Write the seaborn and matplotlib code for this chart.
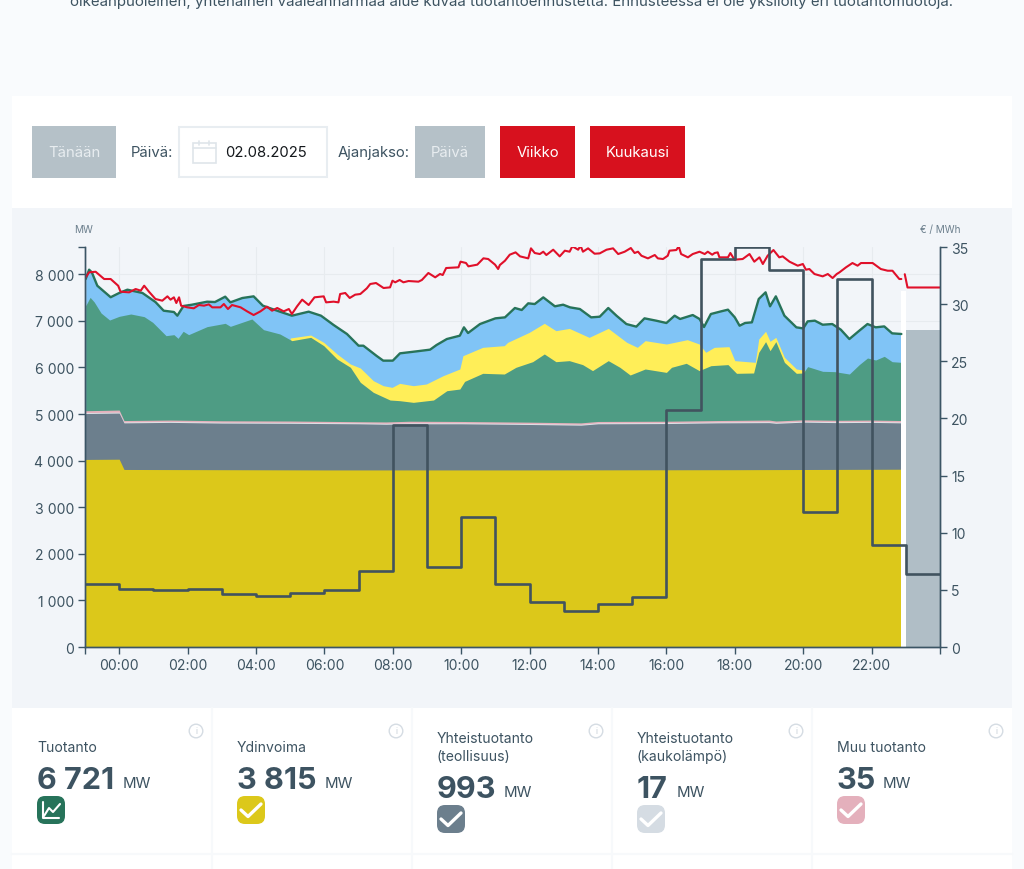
"""Finnish electricity production view: stacked production, consumption and spot price."""
import matplotlib
matplotlib.use("Agg")
import matplotlib.pyplot as plt
from matplotlib.patches import Rectangle, FancyBboxPatch, Circle
import pandas as pd
import seaborn as sns

sns.set_style("white")
plt.rcParams["font.family"] = ["Inter", "DejaVu Sans"]

TEXT = "#3d5361"
AXIS = "#3b5565"

# hours relative to 02.08.2025 00:00, values in MW (top edge of each stacked layer)
total_t = [-0.98, -0.88, -0.8, -0.64, -0.25, 0, 0.24, 0.68, 1.06, 1.3, 1.6, 1.7, 1.88, 2.13, 2.57, 2.8,
           3.1, 3.25, 3.6, 3.93, 4.2, 4.7, 5.05, 5.54, 5.9, 6.27, 6.66, 7.0, 7.14, 7.53, 7.72, 8.0,
           8.21, 8.7, 9.09, 9.28, 9.58, 9.96, 10.08, 10.2, 10.55, 11.0, 11.28, 11.57, 11.77, 11.96,
           12.15, 12.4, 12.74, 12.98, 13.18, 13.47, 13.8, 14.05, 14.3, 14.54, 14.83, 15.12, 15.36,
           15.7, 16.0, 16.24, 16.4, 16.77, 16.97, 17.1, 17.3, 17.6, 17.8, 18.0, 18.14, 18.3, 18.5,
           18.7, 18.9, 19.03, 19.2, 19.45, 19.8, 20.0, 20.13, 20.34, 20.57, 20.85, 21.1, 21.35,
           21.64, 21.88, 22.12, 22.37, 22.6, 22.87]
total_mw = [7897, 8097, 8040, 7753, 7506, 7597, 7668, 7597, 7403, 7217, 7189, 7110, 7318, 7346, 7410, 7403,
            7518, 7396, 7489, 7525, 7325, 7196, 7110, 7196, 7110, 6910, 6717, 6466, 6466, 6245, 6145, 6145,
            6302, 6345, 6381, 6481, 6609, 6681, 6860, 6738, 6931, 7053, 7074, 7275, 7232, 7375,
            7360, 7503, 7311, 7346, 7289, 7253, 7074, 7088, 7275, 7110, 6931, 6875, 7053,
            7003, 6953, 7110, 7039, 7124, 7039, 6867, 7146, 7203, 7239, 7074, 6895, 6953, 6967,
            7468, 7611, 7311, 7525, 7110, 6860, 6837, 6988, 7003, 6916, 6931, 6810, 6609,
            6788, 6931, 6860, 6880, 6731, 6717]

solar_t = [5.0, 5.6, 5.98, 6.37, 6.76, 7.05, 7.43, 7.72, 7.98, 8.2, 8.6, 8.98, 9.47, 9.96, 10.05, 10.63,
           11.26, 11.36, 11.99, 12.43, 12.77, 13.16, 13.74, 14.3, 14.84, 15.15, 15.38, 16.0, 16.61,
           16.96, 17.15, 17.4, 17.83, 18.0, 18.6, 18.7, 18.9, 19.03, 19.2, 19.45, 19.8, 20.1]
solar_mw = [6631, 6695, 6538, 6288, 6073, 5987, 5715, 5608, 5572, 5658, 5608, 5644, 5822, 5966, 6251, 6431,
            6467, 6538, 6752, 6946, 6788, 6837, 6645, 6837, 6538, 6431, 6574, 6502, 6595,
            6502, 6324, 6431, 6445, 6145, 6109, 6609, 6775, 6560, 6645, 6217, 5966, 5931]

hydro_t = [-0.98, -0.85, -0.73, -0.53, -0.28, 0, 0.34, 0.73, 0.98, 1.37, 1.6, 1.72, 1.87, 2.03, 2.57, 3.1,
           3.25, 3.88, 4.22, 4.7, 5.05, 5.6, 5.98, 6.37, 6.76, 7.05, 7.43, 7.92, 8.2, 8.6, 9.19, 9.58,
           9.96, 10.1, 10.63, 11.26, 11.6, 12.09, 12.43, 12.77, 13.16, 13.55, 13.84, 14.3, 14.64, 14.94,
           15.38, 16.0, 16.15, 16.58, 16.96, 17.3, 17.8, 18.05, 18.55, 18.7, 18.9, 19.03, 19.2, 19.45,
           19.8, 20.0, 20.13, 20.57, 20.92, 21.35, 21.64, 21.88, 22.12, 22.37, 22.6, 22.87]
hydro_mw = [7325, 7503, 7403, 7167, 7017, 7096, 7146, 7089, 6967, 6681, 6703, 6624, 6775, 6703, 6875, 6946,
            6881, 7039, 6810, 6717, 6574, 6645, 6467, 6180, 6002, 5680, 5465, 5300, 5286, 5250, 5300, 5500,
            5536, 5700, 5873, 5858, 6002, 6123, 6288, 6123, 6145, 6060, 5931, 6145, 6002, 5837,
            5966, 5893, 6002, 6088, 5931, 6037, 6060, 5873, 5880, 6324, 6553, 6359, 6553, 6109,
            5873, 5880, 6017, 5916, 5909, 5858, 6060, 6202, 6159, 6238, 6123, 6109]

other_t = [-1, 0, 0.14, 1.5, 3, 5, 7, 7.8, 8.5, 10, 12, 13.5, 14, 16, 17.5, 19, 19.2, 20, 21, 22, 22.87]
other_mw = [5070, 5085, 4860, 4870, 4855, 4850, 4835, 4830, 4845, 4840, 4825, 4810, 4840, 4845, 4860, 4870,
            4850, 4875, 4865, 4870, 4860]
chp_mw = [5010, 5020, 4810, 4820, 4805, 4800, 4790, 4780, 4790, 4790, 4775, 4760, 4790, 4795, 4810, 4815,
          4800, 4825, 4815, 4820, 4810]

nuclear_t = [-1, 0, 0.14, 6, 12, 18, 22.87]
nuclear_mw = [4025, 4030, 3810, 3800, 3800, 3805, 3815]

# consumption, read as (hour, MW)
demand_readings = [
    (-0.98, 7933), (-0.88, 8040), (-0.69, 8053), (-0.44, 7897), (-0.25, 7897), (-0.03, 7753), (0.04, 7625),
    (0.29, 7611), (0.48, 7682), (0.63, 7647), (0.73, 7754), (0.87, 7625), (1.06, 7468), (1.26, 7432),
    (1.41, 7525), (1.5, 7454), (1.6, 7504), (1.67, 7382), (1.75, 7504), (1.81, 7325), (1.99, 7289),
    (2.18, 7268), (2.33, 7339), (2.48, 7325), (2.62, 7353), (2.72, 7289), (2.96, 7289), (3.06, 7361),
    (3.18, 7253), (3.3, 7339), (3.55, 7289), (3.74, 7203), (3.93, 7124), (4.13, 7203), (4.32, 7303),
    (4.47, 7217), (4.62, 7275), (4.81, 7203), (4.96, 7253), (5.05, 7146), (5.2, 7310), (5.35, 7454),
    (5.54, 7339), (5.71, 7504), (5.98, 7525), (6.05, 7396), (6.27, 7411), (6.41, 7396), (6.46, 7575),
    (6.61, 7597), (6.74, 7490), (6.9, 7561), (7.05, 7575), (7.24, 7697), (7.34, 7790), (7.51, 7811),
    (7.73, 7704), (7.92, 7718), (7.99, 7861), (8.07, 7826), (8.2, 7876), (8.31, 7826), (8.46, 7854),
    (8.75, 7840), (8.85, 7876), (9.04, 8026), (9.24, 7933), (9.38, 8005), (9.46, 7983), (9.56, 8133),
    (9.92, 8148), (9.98, 8269), (10.14, 8241), (10.21, 8169), (10.47, 8205), (10.65, 8341), (10.79, 8326),
    (10.99, 8205), (11.08, 8112), (11.13, 8197), (11.28, 8290), (11.42, 8419), (11.59, 8469), (11.72, 8383),
    (11.96, 8340), (12.04, 8555), (12.15, 8455), (12.3, 8433), (12.4, 8483), (12.49, 8412), (12.69, 8526),
    (12.88, 8383), (13.03, 8505), (13.17, 8483), (13.25, 8598), (13.42, 8526), (13.49, 8612), (13.56, 8483),
    (13.71, 8555), (13.9, 8440), (14.05, 8447), (14.25, 8526), (14.44, 8555), (14.59, 8433), (14.78, 8483),
    (14.96, 8562), (15.07, 8455), (15.17, 8483), (15.27, 8397), (15.46, 8340), (15.66, 8412), (15.75, 8340),
    (15.9, 8326), (16.04, 8397), (16.09, 8505), (16.29, 8519), (16.36, 8598), (16.43, 8433), (16.63, 8362),
    (16.77, 8433), (16.97, 8483), (17.12, 8433), (17.21, 8483), (17.34, 8419), (17.41, 8455), (17.5, 8469),
    (17.55, 8362), (17.8, 8362), (17.87, 8455), (17.99, 8312), (18.23, 8326), (18.43, 8433), (18.57, 8269),
    (18.72, 8362), (18.82, 8219), (18.96, 8397), (19.13, 8519), (19.3, 8362), (19.4, 8383), (19.6, 8269),
    (19.84, 8183), (19.99, 8219), (20.08, 8097), (20.18, 8111), (20.33, 8004), (20.57, 7954), (20.72, 8004),
    (20.86, 7918), (20.98, 8004), (21.06, 8040), (21.25, 8147), (21.44, 8240), (21.59, 8183), (21.69, 8240),
    (22.03, 8240), (22.27, 8111), (22.47, 8075), (22.61, 8075), (22.81, 7897), (22.87, 7897),
]

forecast_t = [22.97, 23.05, 24]
forecast_demand_mw = [8000, 7715, 7715]
forecast_start = 23
forecast_total_mw = 6800

# spot price, one value per hour
price_hours = list(range(-1, 25))
price_eur = [5.5, 5.07, 4.95, 5.05, 4.64, 4.46, 4.7, 5.0, 6.65, 19.4, 7.0, 11.4, 5.5, 3.94, 3.15, 3.76, 4.38,
             20.7, 33.95, 35.0, 33.0, 11.8, 32.2, 8.9, 6.4, 6.4]

left_ticks = [0, 1000, 2000, 3000, 4000, 5000, 6000, 7000, 8000]
right_ticks = [0, 5, 10, 15, 20, 25, 30, 35]
hour_ticks = list(range(0, 24, 2))

card_labels = ["Tuotanto", "Ydinvoima", "Yhteistuotanto\n(teollisuus)", "Yhteistuotanto\n(kaukolämpö)", "Muu tuotanto"]
card_values = ["6 721", "3 815", "993", "17", "35"]
card_colors = ["#27735a", "#dcc81a", "#6c7f8d", "#d5dce3", "#e4b0bc"]
card_unit_x = [123, 325, 504, 677, 883]


fig = plt.figure(figsize=(10.24, 8.7), dpi=100, facecolor="#f9fbfd")

# page furniture in pixel coordinates
bg = fig.add_axes([0, 0, 1, 1], zorder=0)
bg.set_xlim(0, 1024)
bg.set_ylim(869, -1)
bg.axis("off")
bg.add_patch(Rectangle((12, 96), 1000, 112, fc="white", ec="none"))
bg.add_patch(Rectangle((12, 208), 1000, 500, fc="#f2f5f9", ec="none"))
bg.add_patch(Rectangle((12, 708), 1000, 162, fc="white", ec="none"))
bg.text(512, 1, "oikeanpuoleinen, yhtenäinen vaaleanharmaa alue kuvaa tuotantoennustetta. "
        "Ennusteessa ei ole yksilöity eri tuotantomuotoja.",
        ha="center", va="center", fontsize=10.85, color=TEXT)


def button(x0, x1, label, color, text_color="white"):
    bg.add_patch(Rectangle((x0, 126), x1 - x0, 52, fc=color, ec="none"))
    bg.text((x0 + x1) / 2, 152, label, ha="center", va="center", fontsize=10.7, color=text_color)


button(32, 116, "Tänään", "#b5c1c8", "#e8edf0")
button(415, 485, "Päivä", "#b5c1c8", "#e8edf0")
button(500, 575, "Viikko", "#d7111e")
button(590, 685, "Kuukausi", "#d7111e")
bg.text(131, 152, "Päivä:", va="center", fontsize=10.7, color=TEXT)
bg.text(338, 152, "Ajanjakso:", va="center", fontsize=10.7, color=TEXT)
bg.add_patch(Rectangle((179, 127), 148, 49.5, fc="white", ec="#e8edf1", lw=1.5))
bg.text(225, 152, "02.08.2025", va="center", fontsize=10.7, color="#14181c")
bg.add_patch(Rectangle((192.5, 143), 23, 20, fc="none", ec="#dfe5ea", lw=1.2))
bg.plot([192.5, 215.5], [148, 148], color="#dfe5ea", lw=1.2)
bg.plot([199, 199], [141, 145], color="#dfe5ea", lw=1.2)
bg.plot([209, 209], [141, 145], color="#dfe5ea", lw=1.2)
bg.text(84, 229, "MW", ha="center", va="center", fontsize=7.2, color="#6c7f8d")
bg.text(940, 229, "€ / MWh", ha="center", va="center", fontsize=7.2, color="#6c7f8d")

# bottom cards
for x in [212, 412, 612, 812]:
    bg.plot([x, x], [708, 870], color="#f7f9fb", lw=1.5)
bg.plot([12, 1012], [854, 854], color="#f7f9fb", lw=1.5)
for i, (label, value, color, unit_x) in enumerate(zip(card_labels, card_values, card_colors, card_unit_x)):
    x = 37 + 200 * i
    two_lines = "\n" in label
    shift = 9 if two_lines else 0
    if two_lines:
        first, second = label.split("\n")
        bg.text(x, 738, first, va="center", fontsize=10.1, color=TEXT)
        bg.text(x, 756, second, va="center", fontsize=10.1, color=TEXT)
    else:
        bg.text(x, 747, label, va="center", fontsize=10.1, color=TEXT)
    bg.text(x, 788 + shift, value, va="baseline", fontsize=22, fontweight="bold", color=TEXT)
    bg.text(unit_x, 787 + shift, "MW", va="baseline", fontsize=10.8, color=TEXT)
    bg.add_patch(FancyBboxPatch((x + 6, 802 + shift), 16, 16, boxstyle="round,pad=6,rounding_size=8",
                                fc=color, ec="none"))
    if i == 0:
        bg.plot([x + 6, x + 6, x + 22], [802, 818, 818], color="white", lw=1.5)
        bg.plot([x + 7, x + 12, x + 16, x + 23], [816, 808, 812, 804], color="white", lw=1.5)
    else:
        bg.plot([x + 4, x + 11, x + 24], [810 + shift, 816.5 + shift, 804 + shift], color="white", lw=2.4)
    bg.add_patch(Circle((x + 159, 731), 6.8, fc="white", ec="#d5dce3", lw=1))
    bg.text(x + 159, 731, "i", ha="center", va="center", fontsize=6, color="#c5ced6")

# chart: left axis MW, right axis price
ax = fig.add_axes([85 / 1024, 1 - 648 / 870, 855 / 1024, 400 / 870], zorder=2)
ax.set_facecolor("none")
ax.set_xlim(-1, 24)
ax.set_ylim(0, 8584)
ax.set_axisbelow(True)
ax.set_yticks(left_ticks + [8584])
ax.set_yticklabels([f"{v:,}".replace(",", " ") for v in left_ticks] + [""])
ax.set_xticks([-1] + hour_ticks + [24])
ax.set_xticklabels([""] + [f"{h:02d}:00" for h in hour_ticks] + [""])
ax.grid(True, color="#e7ebef", lw=0.8)
for line in [ax.get_xgridlines()[0], ax.get_xgridlines()[-1], ax.get_ygridlines()[0], ax.get_ygridlines()[-1]]:
    line.set_visible(False)
ax.tick_params(axis="both", length=5, width=1, color=AXIS, labelcolor=TEXT, labelsize=10.1, pad=3, bottom=True, left=True)

ax.fill_between(total_t, 0, total_mw, color="#80c4f6", lw=0)
ax.fill_between(solar_t, 0, solar_mw, color="#ffee58", lw=0)
ax.fill_between(hydro_t, 0, hydro_mw, color="#4e9c84", lw=0)
ax.fill_between(other_t, 0, other_mw, color="#e4b0bc", lw=0)
ax.fill_between(other_t, 0, [v + 20 for v in chp_mw], color="#dfe3e8", lw=0)
ax.fill_between(other_t, 0, chp_mw, color="#6c7f8d", lw=0)
ax.fill_between(nuclear_t, 0, nuclear_mw, color="#dcc81a", lw=0)
ax.add_patch(Rectangle((22.87, 0), 0.13, 7650, fc="white", ec="none"))
ax.add_patch(Rectangle((forecast_start, 0), 1, forecast_total_mw, fc="#b0bec6", ec="none"))

total_df = pd.DataFrame({"hour": total_t, "mw": total_mw})
demand_df = pd.DataFrame(demand_readings, columns=["hour", "mw"])
forecast_df = pd.DataFrame({"hour": forecast_t, "mw": forecast_demand_mw})
sns.lineplot(data=total_df, x="hour", y="mw", ax=ax, color="#27735a", lw=1.7, sort=False)
sns.lineplot(data=demand_df, x="hour", y="mw", ax=ax, color="#e0102a", lw=1.5, sort=False)
sns.lineplot(data=forecast_df, x="hour", y="mw", ax=ax, color="#e0102a", lw=1.5, sort=False)
ax.set_xlabel("")
ax.set_ylabel("")

ax2 = ax.twinx()
ax2.set_zorder(3)
ax2.set_ylim(0, 35)
price_df = pd.DataFrame({"hour": price_hours, "eur": price_eur})
sns.lineplot(data=price_df, x="hour", y="eur", ax=ax2, color="#41535f", lw=1.9, drawstyle="steps-post")
ax2.set_xlim(-1, 24)
ax2.set_ylabel("")
ax2.set_yticks(right_ticks)
ax2.tick_params(axis="y", length=5, width=1, color=AXIS, labelcolor=TEXT, labelsize=10.1, pad=3, right=True)

for a in (ax, ax2):
    a.spines["top"].set_visible(False)
    for side in ("left", "right", "bottom"):
        a.spines[side].set_color(AXIS)
        a.spines[side].set_linewidth(1)

fig.savefig("out.png", dpi=100, facecolor=fig.get_facecolor())
